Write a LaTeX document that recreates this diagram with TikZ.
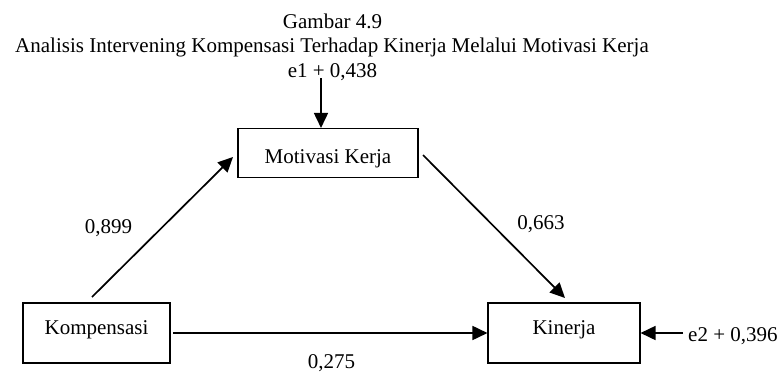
\documentclass[tikz,border=0pt]{standalone}
\usepackage{fontspec}
\setmainfont{Liberation Serif}
\usetikzlibrary{arrows.meta}
\begin{document}
\begin{tikzpicture}[x=1pt,y=-1pt,
  box/.style={draw, line width=1.1pt, inner sep=0pt, font=\fontsize{21}{25}\selectfont},
  txt/.style={anchor=base, inner sep=0pt, font=\fontsize{21}{25}\selectfont},
  conn/.style={line width=1.7pt, -{Triangle[length=15pt,width=14pt]}}]
\useasboundingbox (0,0) rectangle (779,372);
% titles
\node[txt] (t1) at (332.5,28) {Gambar 4.9};
\node[txt] (t2) at (332,52.5) {Analisis Intervening Kompensasi Terhadap Kinerja Melalui Motivasi Kerja};
\node[txt] (e1) at (332.5,77) {e1 + 0,438};
% boxes
\node[box, minimum width=180pt, minimum height=49pt, text height=24pt, text depth=4pt] (mot) at (328,153) {Motivasi Kerja};
\node[box, minimum width=147pt, minimum height=60pt, text height=10pt, text depth=8pt] (komp) at (96.5,333) {Kompensasi};
\node[box, minimum width=152pt, minimum height=60pt, text height=10pt, text depth=8pt] (kin) at (564,333) {Kinerja};
% coefficient labels
\node[txt] (l1) at (108.5,233) {0,899};
\node[txt] (l2) at (541,229) {0,663};
\node[txt] (l3) at (331.5,368) {0,275};
\node[txt, anchor=base west] (e2) at (688,341) {e2 + 0,396};
% connector ends
\coordinate (c1) at (321,78);
\coordinate (a1s) at (92,297);
\coordinate (a1e) at (233,157);
\coordinate (a2s) at (423,155);
\coordinate (a2e) at (565,298);
\coordinate (a3s) at (173,333);
\coordinate (c2) at (683,333);
% connectors
\draw[conn] (c1) -- (c1 |- mot.north);
\draw[conn] (a1s) -- (a1e);
\draw[conn] (a2s) -- (a2e);
\draw[conn] (a3s) -- (kin.west);
\draw[conn] (c2) -- (kin.east);
\end{tikzpicture}
\end{document}
